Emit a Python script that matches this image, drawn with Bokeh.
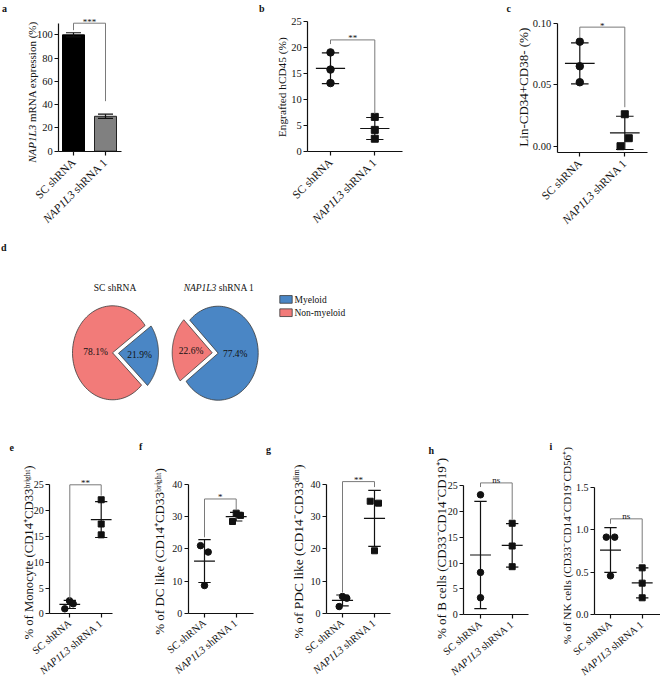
import numpy as np
from bokeh.plotting import figure
from bokeh.models import Range1d, LinearAxis, FixedTicker, CustomJSTickFormatter, PrintfTickFormatter, BasicTickFormatter
from bokeh.layouts import column, row
from bokeh.embed import file_html
from bokeh.resources import INLINE
from bokeh.core.properties import value

FONT = "Liberation Serif"
INK = "#111111"
GREY_LINE = "#7a7a7a"
BAR_GREY = "#808080"
PINK = "#F27B79"
BLUE = "#4A86C5"
EDGE = "#3a3a3a"

TOP_TICK = "10.5px"
BOT_TICK = "10px"
TOP_CAT = 11.5
BOT_CAT = 10.5
TOP_ANGLE = np.deg2rad(45)
BOT_ANGLE = np.deg2rad(40)
PIE_FS = 9.5
SIG_FS = "9px"
LET_FS = "10px"

# ---------------- data ----------------
groups = ["SC shRNA", "NAP1L3 shRNA 1"]
gene = "NAP1L3"
group_x = [1, 2]

a_values = [100.0, 30.0]
a_errors = [1.8, 1.8]
a_yticks = [0, 20, 40, 60, 80, 100]
a_ylabel_rest = "mRNA expression (%)"
a_sig = "***"
a_bracket = [104.0, 110.0, 43.0]

b_sc = [19.0, 15.7, 13.1]
b_kd = [6.6, 4.1, 2.4]
b_yticks = [0, 5, 10, 15, 20, 25]
b_ylabel = "Engrafted hCD45 (%)"
b_sig = "**"
b_bracket = [20.6, 21.4, 7.2]

c_sc = [0.085, 0.065, 0.052]
c_kd = [0.026, 0.0065, 0.0]
c_yticks = [0.0, 0.05, 0.10]
c_ylabel = "Lin-CD34+CD38- (%)"
c_sig = "*"
c_bracket = [0.0886, 0.0968, 0.0317]

pie_labels = ["Myeloid", "Non-myeloid"]
pie_sc = [21.9, 78.1]
pie_kd = [77.4, 22.6]

e_sc = [0.97, 2.52, 1.94]
e_kd = [22.1, 17.4, 15.3]
e_yticks = [0, 5, 10, 15, 20, 25]
e_ylabel = "% of Monocyte (CD14⁺CD33ᵇʳⁱᵍʰᵗ)"
e_sig = "**"
e_bracket = [2.9, 25.0, 22.9]

f_sc = [21.0, 19.0, 8.6]
f_kd = [31.1, 28.5, 30.4]
f_yticks = [0, 10, 20, 30, 40]
f_ylabel = "% of DC like (CD14⁺CD33ᵇʳⁱᵍʰᵗ)"
f_sig = "*"
f_bracket = [23.6, 35.5, 32.1]

g_sc = [2.07, 5.2, 4.66]
g_kd = [34.8, 34.2, 19.4]
g_yticks = [0, 10, 20, 30, 40]
g_ylabel = "% of PDC like (CD14⁻CD33ᵈⁱᵐ)"
g_sig = "**"
g_bracket = [6.5, 40.9, 39.2]

h_sc = [23.2, 8.2, 3.3]
h_kd = [17.7, 13.3, 9.3]
h_yticks = [0, 5, 10, 15, 20, 25]
h_ylabel = "% of B cells (CD33⁻CD14⁻CD19⁺)"
h_sig = "ns"
h_bracket = [24.7, 25.5, 18.4]

i_sc = [0.913, 0.913, 0.458]
i_kd = [0.552, 0.372, 0.2]
i_yticks = [0.0, 0.5, 1.0, 1.5]
i_ylabel = "% of NK cells (CD33⁻CD14⁻CD19⁻CD56⁺)"
i_sig = "ns"
i_bracket = [1.07, 1.128, 0.607]

# horizontal jitter of points (pixels), layout only
b_jit = ([0, 0, 0], [0, 0, 0])
c_jit = ([0, 0, 0], [0, 4, -4.3])
e_jit = ([-5, -0.3, 3.4], [0, 0, 0])
f_jit = ([-4, 3.7, 0], [0, -3.7, 4.3])
g_jit = ([-3.3, 0, 4.3], [-4.3, 4, 0])
h_jit = ([0, 0, 0], [0, 0, 0])
i_jit = ([-4.2, 4.2, 0], [0, 0, 0])


# ---------------- helpers ----------------
class Panel:
    def __init__(self, origin, size, xmap, ymap):
        (ox, oy), (w, h) = origin, size
        (xv0, xp0), (xv1, xp1) = xmap
        (yv0, yp0), (yv1, yp1) = ymap
        self.kx = (xv1 - xv0) / (xp1 - xp0)
        self.ky = (yv1 - yv0) / (yp1 - yp0)
        self.X = lambda px: xv0 + (px - xp0) * self.kx
        self.Y = lambda py: yv0 + (py - yp0) * self.ky
        self.p = figure(width=w, height=h,
                        x_range=Range1d(self.X(ox), self.X(ox + w)),
                        y_range=Range1d(self.Y(oy + h), self.Y(oy)),
                        x_axis_type=None, y_axis_type=None,
                        toolbar_location=None, output_backend="svg",
                        min_border=0, outline_line_color=None,
                        background_fill_color="white", border_fill_color="white")
        self.p.min_border_left = 0
        self.p.min_border_right = 0
        self.p.min_border_top = 0
        self.p.min_border_bottom = 0


def txt(p, x, y, s, size, angle=0.0, align="center", baseline="middle", style="normal", color=INK):
    p.text(x=[x], y=[y], text=[s], angle=angle, text_align=align, text_baseline=baseline,
           text_font=value(FONT), text_font_size=size, text_font_style=style, text_color=color)


def add_axes(P, x_axis_y, xb, yb, yticks, fmt, fs):
    xa = LinearAxis(fixed_location=x_axis_y, bounds=(float(xb[0]), float(xb[1])),
                    ticker=FixedTicker(ticks=group_x),
                    formatter=CustomJSTickFormatter(code="return ''"))
    ya = LinearAxis(fixed_location=float(xb[0]), bounds=(float(yb[0]), float(yb[1])),
                    ticker=FixedTicker(ticks=yticks), formatter=fmt)
    for ax in (xa, ya):
        ax.axis_line_color = INK
        ax.axis_line_width = 1.2
        ax.major_tick_line_color = INK
        ax.major_tick_line_width = 1.2
        ax.major_tick_out = 4
        ax.major_tick_in = 0
        ax.minor_tick_line_color = None
        ax.major_label_text_font = FONT
        ax.major_label_text_font_size = fs
        ax.major_label_text_color = INK
        ax.major_label_standoff = 2
    P.p.add_layout(xa, "below")
    P.p.add_layout(ya, "left")


def cat_labels(P, axis_page_y, F, ang, gap=9):
    ya = P.Y(axis_page_y + gap)
    size = f"{F}px"
    txt(P.p, group_x[0], ya, groups[0], size, angle=ang, align="right")
    rest = groups[1][len(gene):].strip()
    txt(P.p, group_x[1], ya, rest, size, angle=ang, align="right")
    w = 4.0 * F
    txt(P.p, group_x[1] - w * np.cos(ang) * P.kx, ya + w * np.sin(ang) * P.ky, gene, size,
        angle=ang, align="right", style="italic")


def dots(P, sc, kd, jit, msize, mid_half=0.33, cap_half=0.195):
    x0s, y0s, x1s, y1s = [], [], [], []
    for gx, vals in zip(group_x, (sc, kd)):
        m = float(np.mean(vals))
        s = float(np.std(vals, ddof=1))
        x0s += [gx - mid_half, gx, gx - cap_half, gx - cap_half]
        x1s += [gx + mid_half, gx, gx + cap_half, gx + cap_half]
        y0s += [m, m - s, m + s, m - s]
        y1s += [m, m + s, m + s, m - s]
    P.p.segment(x0=x0s, y0=y0s, x1=x1s, y1=y1s, line_color=INK, line_width=1.2)
    P.p.scatter(x=[group_x[0] + j * P.kx for j in jit[0]], y=sc, marker="circle",
                size=msize, color=INK)
    P.p.scatter(x=[group_x[1] + j * P.kx for j in jit[1]], y=kd, marker="square",
                size=msize - 0.5, color=INK)


def bracket(P, br, sig):
    left, top, right = br
    P.p.line(x=[1, 1, 2, 2], y=[left, top, top, right], line_color=GREY_LINE, line_width=1)
    off = 1.5 if "*" in sig else 3.0
    txt(P.p, 1.5, top - off * P.ky, sig, SIG_FS, baseline="alphabetic")


def letter(P, x, y, s):
    txt(P.p, P.X(x), P.Y(y), s, LET_FS, align="left", style="bold")


# ---------------- panel a ----------------
A = Panel((0, 0), (228, 233), ((1, 73), (2, 105)), ((0, 150.7), (110, 22.7)))
add_axes(A, 0.0, (A.X(58.3), A.X(120.7)), (0, 110), a_yticks, BasicTickFormatter(), TOP_TICK)
A.p.vbar(x=group_x, top=a_values, width=22 * A.kx, bottom=0,
         fill_color=["black", BAR_GREY], line_color=["black", "#222222"], line_width=1)
ax0, ay0, ax1, ay1 = [], [], [], []
for gx, v, e in zip(group_x, a_values, a_errors):
    ch = 7.5 * A.kx
    ax0 += [gx, gx - ch, gx - ch]
    ax1 += [gx, gx + ch, gx + ch]
    ay0 += [v - e, v + e, v - e]
    ay1 += [v + e, v + e, v - e]
A.p.segment(x0=ax0, y0=ay0, x1=ax1, y1=ay1, line_color=INK, line_width=1.2)
bracket(A, a_bracket, a_sig)
cat_labels(A, 150.7, TOP_CAT, TOP_ANGLE)
Fa = 11.0
total = (3.445 + 0.25 + 9.165) * Fa
bottom = 91.5 + total / 2
join = bottom - 3.445 * Fa
txt(A.p, A.X(31.5), A.Y(join), gene, f"{Fa}px", angle=np.pi / 2, align="right", style="italic")
txt(A.p, A.X(31.5), A.Y(join - 0.25 * Fa), a_ylabel_rest, f"{Fa}px", angle=np.pi / 2,
    align="left")
letter(A, 1.5, 8, "a")

# ---------------- panel b ----------------
B = Panel((228, 0), (220, 233), ((1, 330), (2, 374.3)), ((0, 150.7), (25, 20.7)))
add_axes(B, 0.0, (B.X(307.3), B.X(401.7)), (0, 25), b_yticks, BasicTickFormatter(), TOP_TICK)
dots(B, b_sc, b_kd, b_jit, 7.5)
bracket(B, b_bracket, b_sig)
cat_labels(B, 150.7, TOP_CAT, TOP_ANGLE)
txt(B.p, B.X(281.7), B.Y(86.7), b_ylabel, "11.3px", angle=np.pi / 2)
letter(B, 258.5, 7.5, "b")

# ---------------- panel c ----------------
C = Panel((448, 0), (212, 233), ((1, 579.3), (2, 624.3)), ((0, 145.7), (0.10, 22.7)))
c_floor = C.Y(151.7)
add_axes(C, c_floor, (C.X(556.7), C.X(646.7)), (c_floor, 0.10), c_yticks,
         PrintfTickFormatter(format="%.2f"), TOP_TICK)
dots(C, c_sc, c_kd, c_jit, 7.5)
bracket(C, c_bracket, c_sig)
cat_labels(C, 151.7, TOP_CAT, TOP_ANGLE)
txt(C.p, C.X(522.7), C.Y(86.7), c_ylabel, "13px", angle=np.pi / 2)
letter(C, 506, 8, "c")

# ---------------- panel d (pies) ----------------
D = Panel((0, 233), (660, 203), ((0, 0), (100, 100)), ((0, 0), (-100, 100)))
pie_cx = [115.0, 214.7]
pie_cy = 352.5
RX, RY = 40.0, 47.0
EXPLODE = 3.0
mid_my = np.deg2rad(-4.0)
pxs, pys, pcols = [], [], []
labels_xy = []
for k, shares in enumerate([pie_sc, pie_kd]):
    my, non = shares
    frac = my / 100.0
    s_my = mid_my - frac * np.pi
    e_my = mid_my + frac * np.pi
    cx, cy = D.X(pie_cx[k]), D.Y(pie_cy)
    for sa, ea, col, mid, v in ((s_my, e_my, BLUE, mid_my, my),
                                (e_my, s_my + 2 * np.pi, PINK, mid_my + np.pi, non)):
        ox = cx + EXPLODE * np.cos(mid)
        oy = cy + EXPLODE * np.sin(mid)
        t = np.linspace(sa, ea, 90)
        pxs.append([ox] + list(ox + RX * np.cos(t)))
        pys.append([oy] + list(oy + RY * np.sin(t)))
        pcols.append(col)
        rr = EXPLODE + (0.53 if v < 50 else 0.425) * RX
        labels_xy.append((cx + rr * np.cos(mid), cy + rr * np.sin(mid), f"{v:.1f}%"))
D.p.patches(xs=pxs, ys=pys, fill_color=pcols, line_color=EDGE, line_width=0.8)
for lx, ly, s in labels_xy:
    txt(D.p, lx, ly, s, f"{PIE_FS}px")
txt(D.p, D.X(114.5), D.Y(287.7), groups[0], f"{PIE_FS}px")
Fd = PIE_FS
tot = 7.445 * Fd
st = 218.5 - tot / 2
jn = st + 3.445 * Fd
txt(D.p, D.X(jn), D.Y(287.7), gene, f"{Fd}px", align="right", style="italic")
txt(D.p, D.X(jn + 0.25 * Fd), D.Y(287.7), groups[1][len(gene):].strip(), f"{Fd}px", align="left")
leg_y = [298.9, 312.2]
D.p.rect(x=[D.X(285.5)] * 2, y=[D.Y(v) for v in leg_y], width=12.4, height=7.7,
         fill_color=[BLUE, PINK], line_color=EDGE, line_width=0.8)
for lab, yy in zip(pie_labels, leg_y):
    txt(D.p, D.X(294), D.Y(yy + 0.4), lab, f"{PIE_FS}px", align="left")
letter(D, 0.5, 247, "d")


# ---------------- bottom row ----------------
def bottom_panel(origin, size, xmap, ymap, axis_left, axis_right, ytop, yticks, fmt,
                 sc, kd, jit, br, sig, ylabel, ylab_xy, ylab_fs, let_xy, let):
    P = Panel(origin, size, xmap, ymap)
    y0_page = ymap[0][1]
    add_axes(P, 0.0, (P.X(axis_left), P.X(axis_right)), (0, ytop), yticks, fmt, BOT_TICK)
    dots(P, sc, kd, jit, 6.5)
    bracket(P, br, sig)
    cat_labels(P, y0_page, BOT_CAT, BOT_ANGLE, gap=8)
    txt(P.p, P.X(ylab_xy[0]), P.Y(ylab_xy[1]), ylabel, ylab_fs, angle=np.pi / 2)
    letter(P, let_xy[0], let_xy[1], let)
    return P


E = bottom_panel((0, 436), (138, 252), ((1, 69.3), (2, 100.7)), ((0, 613.3), (25, 484.3)),
                 49.3, 111.7, 25, e_yticks, BasicTickFormatter(), e_sc, e_kd, e_jit,
                 e_bracket, e_sig, e_ylabel, (28.5, 552), "12.7px", (9, 447), "e")
Fp = bottom_panel((138, 436), (127, 252), ((1, 204), (2, 235.7)), ((0, 612.7), (40, 484)),
                  187.7, 253.3, 40, f_yticks, BasicTickFormatter(), f_sc, f_kd, f_jit,
                  f_bracket, f_sig, f_ylabel, (158.5, 551), "13px", (138.5, 446), "f")
G = bottom_panel((265, 436), (130, 252), ((1, 342), (2, 374)), ((0, 612.7), (40, 484)),
                 326, 390, 40, g_yticks, BasicTickFormatter(), g_sc, g_kd, g_jit,
                 g_bracket, g_sig, g_ylabel, (298.3, 551), "13.5px", (265.5, 449), "g")
H = bottom_panel((395, 436), (134, 252), ((1, 480), (2, 511.7)), ((0, 614.3), (25, 485)),
                 463.3, 528.3, 25, h_yticks, BasicTickFormatter(), h_sc, h_kd, h_jit,
                 h_bracket, h_sig, h_ylabel, (440.5, 548), "13px", (428, 450), "h")
I = bottom_panel((529, 436), (131, 252), ((1, 610), (2, 641.7)), ((0, 614.3), (1.5, 486.7)),
                 594, 662, 1.5, i_yticks, PrintfTickFormatter(format="%.1f"), i_sc, i_kd, i_jit,
                 i_bracket, i_sig, i_ylabel, (566, 545), "11.2px", (549, 446), "i")

layout = column(row(A.p, B.p, C.p), D.p, row(E.p, Fp.p, G.p, H.p, I.p))
open("out.html", "w").write(file_html(layout, INLINE, title="NAP1L3 knockdown"))
